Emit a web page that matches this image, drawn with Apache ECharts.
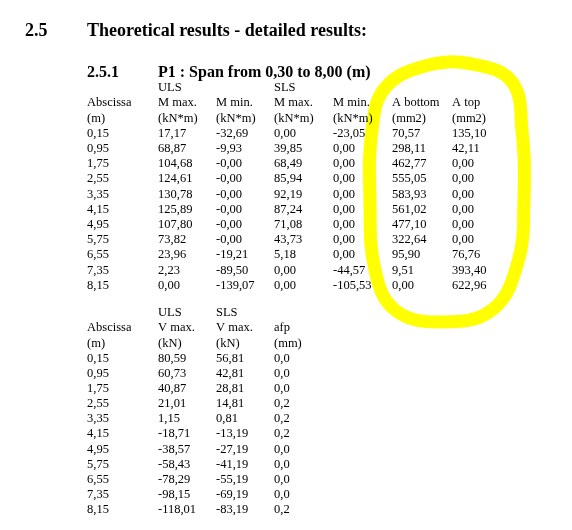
<!DOCTYPE html>
<html>
<head>
<meta charset="utf-8">
<script src="https://cdn.jsdelivr.net/npm/echarts@6/dist/echarts.min.js"></script>
<style>
html, body { margin: 0; padding: 0; background: #fff; }
#chart { width: 572px; height: 530px; }
</style>
</head>
<body>
<div id="chart"></div>
<script>
// 表1：弯矩与配筋
const abscissa = ['0,15', '0,95', '1,75', '2,55', '3,35', '4,15', '4,95', '5,75', '6,55', '7,35', '8,15'];
const ulsMmax = ['17,17', '68,87', '104,68', '124,61', '130,78', '125,89', '107,80', '73,82', '23,96', '2,23', '0,00'];
const ulsMmin = ['-32,69', '-9,93', '-0,00', '-0,00', '-0,00', '-0,00', '-0,00', '-0,00', '-19,21', '-89,50', '-139,07'];
const slsMmax = ['0,00', '39,85', '68,49', '85,94', '92,19', '87,24', '71,08', '43,73', '5,18', '0,00', '0,00'];
const slsMmin = ['-23,05', '0,00', '0,00', '0,00', '0,00', '0,00', '0,00', '0,00', '0,00', '-44,57', '-105,53'];
const aBottom = ['70,57', '298,11', '462,77', '555,05', '583,93', '561,02', '477,10', '322,64', '95,90', '9,51', '0,00'];
const aTop = ['135,10', '42,11', '0,00', '0,00', '0,00', '0,00', '0,00', '0,00', '76,76', '393,40', '622,96'];
const table1Group = ['', 'ULS', '', 'SLS', '', '', ''];
const table1Names = ['Abscissa', 'M max.', 'M min.', 'M max.', 'M min.', 'A bottom', 'A top'];
const table1Units = ['(m)', '(kN*m)', '(kN*m)', '(kN*m)', '(kN*m)', '(mm2)', '(mm2)'];

// 表2：剪力与挠度
const ulsVmax = ['80,59', '60,73', '40,87', '21,01', '1,15', '-18,71', '-38,57', '-58,43', '-78,29', '-98,15', '-118,01'];
const slsVmax = ['56,81', '42,81', '28,81', '14,81', '0,81', '-13,19', '-27,19', '-41,19', '-55,19', '-69,19', '-83,19'];
const afp = ['0,0', '0,0', '0,0', '0,2', '0,2', '0,2', '0,0', '0,0', '0,0', '0,0', '0,2'];
const table2Group = ['', 'ULS', 'SLS', ''];
const table2Names = ['Abscissa', 'V max.', 'V max.', 'afp'];
const table2Units = ['(m)', '(kN)', '(kN)', '(mm)'];

const colX = [87, 158, 216, 274, 333, 392, 452];
const font = '"Liberation Serif", "DejaVu Serif", serif';

function txt(x, y, s, size, bold) {
    return {
        type: 'text', x: x, y: y, z: 10,
        style: { text: s, fontFamily: font, fontSize: size || 12.5, fontWeight: bold ? 'bold' : 'normal',
                 fill: '#000', verticalAlign: 'middle' }
    };
}

function buildTable(y0, rowH, headRows, cols) {
    const els = [];
    headRows.forEach((row, r) => row.forEach((s, c) => { if (s) els.push(txt(colX[c], y0 + r * rowH, s)); }));
    cols.forEach((col, c) => col.forEach((s, i) => els.push(txt(colX[c], y0 + (headRows.length + i) * rowH, s))));
    return els;
}

const elements = [];
// 黄色高亮圈
elements.push({
    type: 'polygon', z: 0,
    shape: {
        points: [[385, 88], [425, 66], [472, 64], [512, 82], [522, 130], [524, 200], [518, 262],
                 [492, 310], [440, 322], [395, 310], [375, 270], [370, 200], [372, 130]],
        smooth: 0.4
    },
    style: { fill: 'none', stroke: '#ffff00', lineWidth: 13, lineJoin: 'round' }
});
elements.push(txt(25, 31, '2.5', 18, true));
elements.push(txt(87, 31, 'Theoretical results - detailed results:', 18, true));
elements.push(txt(87, 73, '2.5.1', 16, true));
elements.push(txt(158, 73, 'P1 : Span from 0,30 to 8,00 (m)', 16, true));
elements.push(...buildTable(88, 15.2, [table1Group, table1Names, table1Units],
    [abscissa, ulsMmax, ulsMmin, slsMmax, slsMmin, aBottom, aTop]));
elements.push(...buildTable(313, 15.15, [table2Group, table2Names, table2Units],
    [abscissa, ulsVmax, slsVmax, afp]));

const chart = echarts.init(document.getElementById('chart'));
chart.setOption({ backgroundColor: '#fff', graphic: { elements: elements } });
</script>
</body>
</html>
